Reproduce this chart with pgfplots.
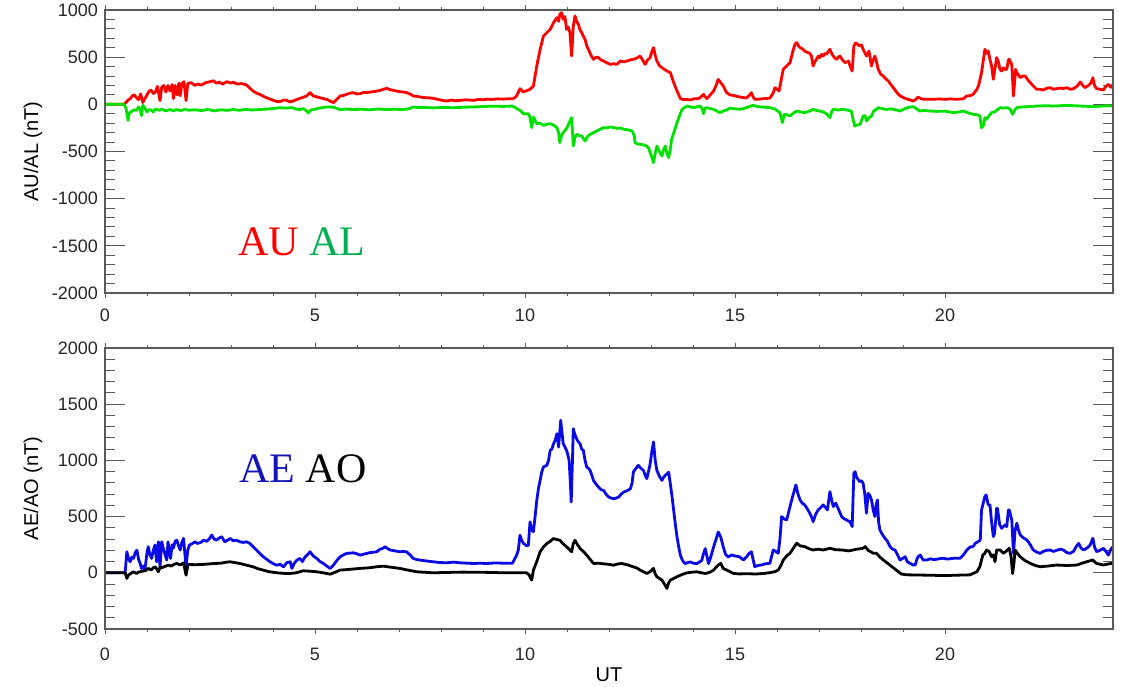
\documentclass[border=0pt]{standalone}
\usepackage{fontspec}
\setmainfont{Liberation Sans}
\newfontfamily\timesfont{Liberation Serif}
\usepackage{pgfplots}
\pgfplotsset{compat=1.18}
\definecolor{cRed}{RGB}{255,0,0}
\definecolor{cGreen}{RGB}{0,225,0}
\definecolor{tGreen}{RGB}{0,176,80}
\definecolor{cBlue}{RGB}{10,10,230}
\definecolor{tBlue}{RGB}{20,20,185}
\definecolor{axgray}{RGB}{90,90,90}
\pgfplotsset{
  panel/.style={scale only axis, width=504pt, xmin=0, xmax=24, anchor=south west,
    axis line style={axgray, line width=0.6pt},
    every tick/.style={axgray, line width=0.5pt},
    tick label style={font=\fontsize{9}{10}\selectfont, text=black!85},
    /pgf/number format/assume math mode=true, /pgf/number format/1000 sep={},
    label style={font=\fontsize{9}{10}\selectfont, text=black!85}},
  datapanel/.style={panel, xtick=\empty, tick align=inside, major tick length=10pt, minor tick length=5pt,
    minor y tick num=4, ytick pos=both, yticklabel pos=left,
    every axis y label/.style={at={(axis description cs:-0.0714,0.5)}, rotate=90, anchor=center},
    every axis plot/.append style={line width=1.4pt, line join=round}},
  xpanel/.style={panel, ytick=\empty, ymin=0, ymax=1, xtick={0,5,10,15,20}, minor x tick num=4,
    tick align=outside, major tick length=2.5pt, minor tick length=1.5pt, xtick pos=both, xticklabel pos=lower,
    every axis x label/.style={at={(axis description cs:0.5,-0.164)}, anchor=center}},
}
\begin{document}
\begin{tikzpicture}
\useasboundingbox (0,0) rectangle (562pt,343pt);
% ---------------- top panel ----------------
\begin{axis}[datapanel, at={(52.5pt,196.5pt)}, height=141.5pt, ymin=-2000, ymax=1000,
  ytick={-2000,-1500,-1000,-500,0,500,1000}, ylabel={AU/AL (nT)}]
\addplot[cRed] coordinates {(0,0)(0.45,0)(0.5,20)(0.55,45)(0.6,60)(0.65,90)(0.7,100)(0.75,70)(0.8,50)(0.85,110)(0.9,20)(0.95,60)(1.0,100)(1.05,140)(1.1,150)(1.15,115)(1.2,130)(1.25,190)(1.31,40)(1.35,180)(1.4,200)(1.45,130)(1.5,200)(1.55,140)(1.6,210)(1.63,60)(1.67,200)(1.72,100)(1.76,225)(1.79,90)(1.83,220)(1.88,240)(1.93,40)(1.97,220)(2.05,230)(2.14,200)(2.2,215)(2.3,205)(2.4,230)(2.5,240)(2.58,250)(2.65,225)(2.72,235)(2.8,215)(2.9,240)(3.0,225)(3.05,235)(3.15,215)(3.25,220)(3.37,205)(3.45,170)(3.53,140)(3.6,120)(3.69,105)(3.77,85)(3.85,70)(3.93,55)(4.01,42)(4.09,30)(4.17,28)(4.25,45)(4.33,42)(4.4,25)(4.48,35)(4.56,50)(4.64,63)(4.72,75)(4.8,88)(4.88,124)(4.96,88)(5.04,80)(5.12,70)(5.2,60)(5.28,53)(5.36,35)(5.44,18)(5.52,55)(5.6,88)(5.68,95)(5.75,106)(5.83,118)(5.91,124)(5.99,110)(6.07,113)(6.15,125)(6.23,124)(6.31,130)(6.39,134)(6.47,140)(6.55,148)(6.63,160)(6.71,170)(6.79,155)(6.87,148)(6.95,140)(7.02,134)(7.1,130)(7.18,124)(7.26,110)(7.34,88)(7.42,85)(7.5,78)(7.58,72)(7.66,70)(7.74,68)(7.82,63)(7.9,55)(8.0,45)(8.13,35)(8.25,45)(8.35,38)(8.45,42)(8.6,48)(8.77,42)(8.9,52)(9.0,48)(9.1,55)(9.2,52)(9.35,58)(9.5,55)(9.6,60)(9.72,60)(9.8,88)(9.88,166)(9.96,130)(10.04,145)(10.12,159)(10.2,194)(10.28,406)(10.36,583)(10.44,724)(10.52,760)(10.6,795)(10.68,866)(10.76,919)(10.8,880)(10.83,954)(10.87,972)(10.91,901)(10.95,930)(10.99,795)(11.03,820)(11.07,760)(11.11,512)(11.15,830)(11.19,936)(11.23,880)(11.27,848)(11.31,790)(11.35,760)(11.39,720)(11.43,689)(11.47,620)(11.51,583)(11.57,520)(11.63,477)(11.69,500)(11.75,495)(11.81,470)(11.87,459)(11.95,440)(12.03,424)(12.11,430)(12.19,424)(12.27,459)(12.35,450)(12.43,459)(12.5,470)(12.58,477)(12.66,490)(12.74,512)(12.8,470)(12.86,424)(12.92,470)(12.98,495)(13.02,560)(13.06,601)(13.1,520)(13.14,459)(13.2,410)(13.26,389)(13.32,370)(13.38,353)(13.46,336)(13.54,230)(13.62,141)(13.7,60)(13.78,50)(13.86,53)(13.94,45)(14.02,60)(14.1,58)(14.17,71)(14.25,106)(14.29,80)(14.33,60)(14.41,100)(14.49,141)(14.55,200)(14.6,265)(14.66,230)(14.72,194)(14.8,124)(14.88,100)(14.96,95)(15.04,85)(15.12,77)(15.2,72)(15.27,66)(15.33,90)(15.39,124)(15.43,80)(15.47,53)(15.57,55)(15.67,60)(15.75,62)(15.83,66)(15.91,120)(15.95,176)(16.0,160)(16.05,141)(16.1,260)(16.15,371)(16.23,406)(16.31,442)(16.39,583)(16.43,640)(16.47,654)(16.51,620)(16.55,601)(16.6,590)(16.66,565)(16.7,555)(16.74,548)(16.78,540)(16.82,512)(16.86,406)(16.9,450)(16.94,477)(16.98,510)(17.02,495)(17.06,530)(17.1,512)(17.14,540)(17.18,530)(17.22,560)(17.26,583)(17.3,540)(17.34,512)(17.38,490)(17.42,477)(17.46,500)(17.5,512)(17.56,470)(17.62,442)(17.66,450)(17.7,459)(17.74,406)(17.79,353)(17.83,618)(17.87,650)(17.91,640)(17.97,618)(18.01,630)(18.05,583)(18.1,540)(18.13,512)(18.19,565)(18.25,406)(18.29,470)(18.33,512)(18.37,450)(18.41,371)(18.47,320)(18.53,300)(18.59,270)(18.65,247)(18.71,210)(18.77,177)(18.83,140)(18.89,106)(18.95,85)(19.01,71)(19.07,60)(19.12,53)(19.18,45)(19.24,35)(19.3,50)(19.36,77)(19.42,62)(19.48,53)(19.6,55)(19.72,53)(19.85,57)(20.0,53)(20.12,58)(20.25,53)(20.35,55)(20.44,60)(20.51,88)(20.6,92)(20.67,106)(20.76,159)(20.8,200)(20.87,336)(20.91,460)(20.95,583)(20.99,540)(21.03,565)(21.07,477)(21.11,406)(21.15,265)(21.19,380)(21.23,495)(21.27,450)(21.31,371)(21.35,353)(21.39,388)(21.43,370)(21.47,371)(21.51,470)(21.53,477)(21.57,440)(21.59,424)(21.63,88)(21.66,250)(21.68,371)(21.72,330)(21.79,283)(21.85,300)(21.91,300)(21.97,260)(22.03,230)(22.1,195)(22.18,159)(22.26,160)(22.34,152)(22.42,170)(22.5,177)(22.58,160)(22.66,166)(22.74,172)(22.82,168)(22.9,177)(22.98,160)(23.06,166)(23.14,190)(23.22,237)(23.28,200)(23.33,177)(23.42,200)(23.48,230)(23.52,283)(23.56,200)(23.61,166)(23.69,160)(23.77,152)(23.83,190)(23.89,212)(23.95,180)(24.0,212)};
\addplot[cGreen] coordinates {(0,0)(0.45,0)(0.5,-40)(0.55,-170)(0.58,-90)(0.62,-81)(0.68,-60)(0.75,-64)(0.8,-28)(0.84,-60)(0.87,-120)(0.9,-10)(0.95,-40)(1.0,-81)(1.05,-56)(1.1,-60)(1.15,-81)(1.2,-50)(1.3,-64)(1.35,-50)(1.45,-70)(1.55,-55)(1.63,-70)(1.7,-56)(1.8,-66)(1.9,-55)(2.0,-62)(2.15,-58)(2.3,-66)(2.45,-54)(2.6,-70)(2.75,-58)(2.9,-64)(3.05,-55)(3.2,-63)(3.35,-54)(3.5,-60)(3.7,-55)(3.85,-50)(4.0,-45)(4.17,-35)(4.3,-40)(4.45,-35)(4.55,-50)(4.64,-56)(4.72,-45)(4.8,-70)(4.84,-92)(4.9,-60)(4.96,-56)(5.1,-40)(5.28,-28)(5.44,-30)(5.6,-56)(5.75,-50)(5.9,-55)(6.1,-52)(6.3,-58)(6.5,-50)(6.7,-55)(6.9,-52)(7.1,-56)(7.25,-45)(7.34,-28)(7.45,-35)(7.6,-32)(7.8,-38)(8.0,-33)(8.3,-36)(8.6,-30)(8.93,-25)(9.2,-20)(9.5,-22)(9.7,-18)(9.8,-43)(9.9,-70)(9.96,-99)(10.08,-99)(10.12,-140)(10.16,-247)(10.2,-134)(10.28,-205)(10.36,-200)(10.44,-223)(10.52,-210)(10.6,-205)(10.68,-220)(10.76,-247)(10.8,-300)(10.83,-406)(10.87,-330)(10.91,-300)(10.95,-280)(11.0,-247)(11.07,-177)(11.11,-141)(11.15,-442)(11.19,-350)(11.23,-318)(11.29,-330)(11.35,-336)(11.43,-389)(11.49,-340)(11.55,-318)(11.63,-300)(11.71,-283)(11.79,-265)(11.87,-247)(11.95,-250)(12.03,-240)(12.11,-247)(12.19,-255)(12.27,-250)(12.35,-265)(12.45,-270)(12.55,-283)(12.6,-330)(12.62,-406)(12.68,-420)(12.74,-424)(12.82,-430)(12.9,-442)(12.95,-470)(12.98,-512)(13.02,-560)(13.06,-618)(13.1,-520)(13.14,-442)(13.2,-500)(13.26,-548)(13.3,-480)(13.34,-442)(13.38,-520)(13.42,-565)(13.46,-480)(13.49,-371)(13.55,-290)(13.62,-194)(13.68,-120)(13.74,-53)(13.8,-35)(13.86,-18)(13.94,-28)(14.02,-35)(14.1,-25)(14.17,-18)(14.22,-50)(14.25,-99)(14.29,-40)(14.33,-35)(14.41,-45)(14.49,-53)(14.56,-70)(14.64,-88)(14.72,-71)(14.8,-60)(14.88,-40)(14.96,-46)(15.05,-50)(15.12,-53)(15.2,-45)(15.3,-30)(15.43,-11)(15.55,-25)(15.7,-30)(15.83,-35)(15.95,-50)(16.07,-88)(16.13,-194)(16.17,-106)(16.23,-110)(16.31,-124)(16.4,-90)(16.47,-71)(16.55,-80)(16.66,-88)(16.78,-70)(16.86,-53)(16.94,-65)(17.02,-71)(17.1,-80)(17.18,-100)(17.26,-141)(17.3,-80)(17.34,-53)(17.45,-60)(17.56,-53)(17.66,-60)(17.77,-71)(17.81,-159)(17.85,-230)(17.9,-220)(17.98,-212)(18.05,-124)(18.1,-120)(18.13,-177)(18.2,-140)(18.25,-124)(18.3,-71)(18.37,-53)(18.41,-35)(18.5,-45)(18.6,-55)(18.7,-48)(18.77,-53)(18.85,-60)(18.93,-71)(19.05,-45)(19.15,-30)(19.25,-25)(19.33,-50)(19.4,-71)(19.5,-65)(19.65,-71)(19.8,-75)(20.0,-72)(20.2,-88)(20.35,-80)(20.44,-71)(20.55,-90)(20.67,-106)(20.76,-110)(20.83,-124)(20.87,-247)(20.91,-230)(20.95,-141)(20.99,-159)(21.05,-120)(21.11,-88)(21.2,-75)(21.31,-35)(21.4,-40)(21.47,-35)(21.55,-50)(21.61,-106)(21.66,-60)(21.71,-35)(21.8,-30)(21.95,-25)(22.1,-22)(22.18,-18)(22.4,-15)(22.6,-18)(22.9,-11)(23.1,-15)(23.3,-20)(23.53,-25)(23.7,-20)(23.85,-15)(24,-18)};
\node[anchor=base west, inner sep=0pt, font=\timesfont\fontsize{21}{24}\selectfont] at (rel axis cs:0.132,0.134) {\textcolor{cRed}{AU} \textcolor{tGreen}{AL}};
\end{axis}
\begin{axis}[xpanel, at={(52.5pt,196.5pt)}, height=141.5pt, xticklabel style={anchor=center, yshift=-8.5pt}]
\end{axis}
% ---------------- bottom panel ----------------
\begin{axis}[datapanel, at={(52.5pt,28.5pt)}, height=140.5pt, ymin=-500, ymax=2000,
  ytick={-500,0,500,1000,1500,2000}, ylabel={AE/AO (nT)}]
\addplot[cBlue] coordinates {(0,0)(0.48,0)(0.52,187)(0.56,128)(0.6,98)(0.64,140)(0.68,128)(0.72,180)(0.76,202)(0.8,120)(0.84,80)(0.87,39)(0.91,60)(0.95,24)(1.0,180)(1.03,232)(1.07,160)(1.11,128)(1.15,200)(1.19,247)(1.23,98)(1.27,276)(1.31,53)(1.35,276)(1.4,200)(1.47,113)(1.5,276)(1.56,128)(1.6,250)(1.63,220)(1.67,280)(1.71,291)(1.75,240)(1.79,202)(1.83,270)(1.87,306)(1.93,53)(1.97,200)(2.01,247)(2.08,260)(2.14,276)(2.2,261)(2.28,270)(2.35,291)(2.42,280)(2.48,300)(2.54,336)(2.6,300)(2.66,291)(2.72,310)(2.78,321)(2.85,276)(2.92,290)(2.98,306)(3.05,285)(3.13,290)(3.21,276)(3.29,270)(3.37,276)(3.45,261)(3.53,230)(3.61,202)(3.69,170)(3.77,143)(3.85,120)(3.93,98)(4.01,80)(4.09,68)(4.17,75)(4.25,53)(4.33,90)(4.41,98)(4.45,39)(4.5,80)(4.56,110)(4.64,128)(4.7,100)(4.76,140)(4.82,160)(4.88,187)(4.96,150)(5.04,128)(5.12,100)(5.2,83)(5.28,60)(5.36,39)(5.44,68)(5.52,110)(5.6,143)(5.68,160)(5.75,172)(5.83,175)(5.91,178)(5.99,170)(6.07,157)(6.15,165)(6.23,172)(6.31,180)(6.39,183)(6.47,187)(6.55,210)(6.63,220)(6.67,232)(6.75,210)(6.8,202)(6.9,195)(7.02,187)(7.1,190)(7.18,187)(7.26,160)(7.34,128)(7.42,118)(7.5,113)(7.6,108)(7.7,103)(7.82,98)(7.95,92)(8.13,89)(8.3,95)(8.45,89)(8.6,86)(8.77,83)(8.93,85)(9.09,83)(9.3,88)(9.5,85)(9.7,85)(9.8,156)(9.84,200)(9.88,335)(9.92,290)(9.96,263)(10.04,240)(10.08,246)(10.12,454)(10.16,380)(10.2,366)(10.24,500)(10.28,644)(10.32,750)(10.36,822)(10.4,900)(10.44,941)(10.48,950)(10.52,956)(10.56,1000)(10.6,1089)(10.64,1100)(10.68,1149)(10.72,1180)(10.76,1238)(10.8,1119)(10.85,1357)(10.88,1250)(10.91,1149)(10.95,1120)(10.99,1089)(11.02,1050)(11.05,1000)(11.08,800)(11.1,629)(11.13,1000)(11.15,1282)(11.18,1240)(11.21,1208)(11.26,1170)(11.31,1149)(11.35,1100)(11.39,1089)(11.43,1000)(11.47,941)(11.51,930)(11.55,911)(11.59,870)(11.63,822)(11.69,790)(11.75,763)(11.81,740)(11.87,733)(11.93,700)(11.99,674)(12.05,665)(12.11,659)(12.17,665)(12.23,674)(12.29,700)(12.35,718)(12.43,730)(12.51,748)(12.55,800)(12.58,896)(12.64,930)(12.7,956)(12.76,930)(12.82,911)(12.86,870)(12.9,837)(12.94,900)(12.98,970)(13.02,1080)(13.06,1164)(13.1,1000)(13.14,911)(13.2,860)(13.26,822)(13.3,850)(13.34,867)(13.38,880)(13.42,896)(13.46,792)(13.5,680)(13.54,555)(13.58,430)(13.62,318)(13.66,230)(13.7,156)(13.75,110)(13.81,82)(13.87,90)(13.93,97)(14.01,85)(14.09,82)(14.15,95)(14.21,111)(14.25,170)(14.29,215)(14.33,150)(14.37,82)(14.43,150)(14.49,230)(14.55,300)(14.6,363)(14.66,320)(14.72,230)(14.78,160)(14.84,141)(14.92,159)(15.0,150)(15.1,144)(15.2,114)(15.28,144)(15.33,170)(15.39,188)(15.43,120)(15.47,55)(15.55,65)(15.63,70)(15.73,80)(15.83,85)(15.91,203)(15.97,190)(16.03,174)(16.07,300)(16.11,500)(16.17,480)(16.23,470)(16.29,560)(16.35,648)(16.41,730)(16.45,782)(16.5,700)(16.55,648)(16.6,620)(16.66,604)(16.72,570)(16.78,530)(16.82,500)(16.86,455)(16.92,520)(16.98,559)(17.04,580)(17.1,604)(17.16,580)(17.2,559)(17.23,640)(17.26,722)(17.3,650)(17.34,589)(17.4,619)(17.47,560)(17.54,500)(17.6,480)(17.66,470)(17.7,460)(17.74,455)(17.79,411)(17.83,885)(17.86,900)(17.89,856)(17.93,830)(17.97,811)(18.01,820)(18.05,796)(18.09,700)(18.13,530)(18.17,707)(18.21,690)(18.25,648)(18.29,560)(18.33,500)(18.36,600)(18.39,648)(18.42,450)(18.45,381)(18.51,340)(18.57,307)(18.63,280)(18.69,233)(18.75,210)(18.81,203)(18.87,160)(18.93,114)(19.0,130)(19.05,144)(19.1,100)(19.16,85)(19.24,70)(19.29,69)(19.33,120)(19.36,144)(19.41,158)(19.48,114)(19.57,114)(19.65,125)(19.72,118)(19.8,120)(19.9,128)(19.96,129)(20.05,122)(20.2,129)(20.36,129)(20.44,160)(20.52,203)(20.6,230)(20.67,233)(20.72,262)(20.79,277)(20.84,292)(20.87,559)(20.9,604)(20.95,678)(20.98,693)(21.03,604)(21.07,604)(21.11,450)(21.15,322)(21.18,351)(21.23,574)(21.25,574)(21.3,430)(21.35,396)(21.43,426)(21.47,411)(21.51,559)(21.53,559)(21.57,500)(21.59,470)(21.63,173)(21.67,380)(21.71,441)(21.75,380)(21.79,337)(21.87,310)(21.95,292)(22.03,250)(22.1,203)(22.18,185)(22.26,173)(22.34,190)(22.42,200)(22.5,203)(22.58,190)(22.66,200)(22.74,210)(22.82,203)(22.9,180)(22.98,173)(23.06,190)(23.12,230)(23.18,262)(23.24,220)(23.3,203)(23.38,220)(23.46,250)(23.52,307)(23.56,230)(23.61,188)(23.69,200)(23.77,218)(23.83,190)(23.89,158)(23.95,210)(24,233)};
\addplot[black] coordinates {(0,0)(0.48,0)(0.52,-50)(0.56,-20)(0.6,-10)(0.67,9)(0.75,-5)(0.82,9)(0.9,15)(0.97,20)(1.03,39)(1.1,25)(1.15,45)(1.2,53)(1.27,9)(1.31,50)(1.35,45)(1.45,60)(1.5,68)(1.58,60)(1.64,75)(1.71,83)(1.79,70)(1.87,89)(1.93,-21)(1.97,60)(2.0,74)(2.15,72)(2.3,74)(2.45,78)(2.6,83)(2.75,85)(2.9,95)(2.98,98)(3.1,90)(3.21,83)(3.35,70)(3.53,53)(3.65,35)(3.77,24)(3.9,10)(4.09,0)(4.25,-5)(4.41,-6)(4.55,0)(4.72,18)(4.85,15)(5.04,9)(5.2,0)(5.36,-12)(5.48,5)(5.6,24)(5.8,30)(6.07,39)(6.3,45)(6.5,55)(6.63,59)(6.8,50)(7.02,39)(7.2,25)(7.42,9)(7.6,5)(7.82,0)(8.1,3)(8.5,6)(8.93,5)(9.2,3)(9.5,0)(10.04,0)(10.1,-20)(10.16,-65)(10.2,24)(10.28,100)(10.36,187)(10.44,230)(10.52,261)(10.6,280)(10.68,305)(10.76,295)(10.83,290)(10.9,260)(10.99,231)(11.05,210)(11.11,187)(11.15,260)(11.19,290)(11.25,250)(11.31,216)(11.39,190)(11.47,157)(11.55,120)(11.63,83)(11.75,85)(11.87,80)(12.0,75)(12.11,68)(12.2,78)(12.3,83)(12.45,70)(12.58,53)(12.68,40)(12.74,24)(12.82,10)(12.9,-6)(12.98,10)(13.06,39)(13.1,-10)(13.14,-35)(13.2,-50)(13.26,-65)(13.32,-100)(13.38,-139)(13.42,-90)(13.46,-65)(13.54,-50)(13.62,-35)(13.74,-15)(13.86,0)(13.97,5)(14.09,9)(14.2,0)(14.3,-6)(14.4,5)(14.49,24)(14.55,50)(14.6,68)(14.66,84)(14.72,39)(14.8,25)(14.88,10)(14.96,-5)(15.1,-10)(15.3,-8)(15.5,-11)(15.7,-5)(15.83,1)(15.95,10)(16.03,25)(16.1,70)(16.15,114)(16.23,150)(16.31,174)(16.39,220)(16.47,263)(16.55,240)(16.66,233)(16.76,215)(16.86,203)(16.98,210)(17.1,203)(17.26,218)(17.4,205)(17.55,203)(17.7,195)(17.81,203)(17.9,210)(18.05,218)(18.1,233)(18.17,200)(18.23,188)(18.29,174)(18.37,173)(18.45,140)(18.53,114)(18.65,80)(18.77,45)(18.87,15)(18.96,-11)(19.1,-18)(19.4,-20)(19.7,-22)(20.0,-25)(20.2,-22)(20.4,-20)(20.6,-18)(20.67,-5)(20.76,10)(20.83,55)(20.9,158)(20.95,174)(20.99,203)(21.05,190)(21.11,143)(21.15,160)(21.19,99)(21.23,203)(21.31,203)(21.39,173)(21.45,190)(21.53,218)(21.57,150)(21.61,-6)(21.64,80)(21.67,203)(21.73,170)(21.79,143)(21.9,110)(22.03,84)(22.15,65)(22.26,54)(22.45,60)(22.66,69)(22.9,65)(23.14,69)(23.3,90)(23.52,114)(23.6,85)(23.77,69)(23.9,80)(24,84)};
\node[anchor=base west, inner sep=0pt, font=\timesfont\fontsize{21}{24}\selectfont] at (rel axis cs:0.133,0.52) {\textcolor{tBlue}{AE} \textcolor{black}{AO}};
\end{axis}
\begin{axis}[xpanel, at={(52.5pt,28.5pt)}, height=140.5pt, xlabel={UT}, xticklabel style={anchor=center, yshift=-10pt}]
\end{axis}
\end{tikzpicture}
\end{document}
